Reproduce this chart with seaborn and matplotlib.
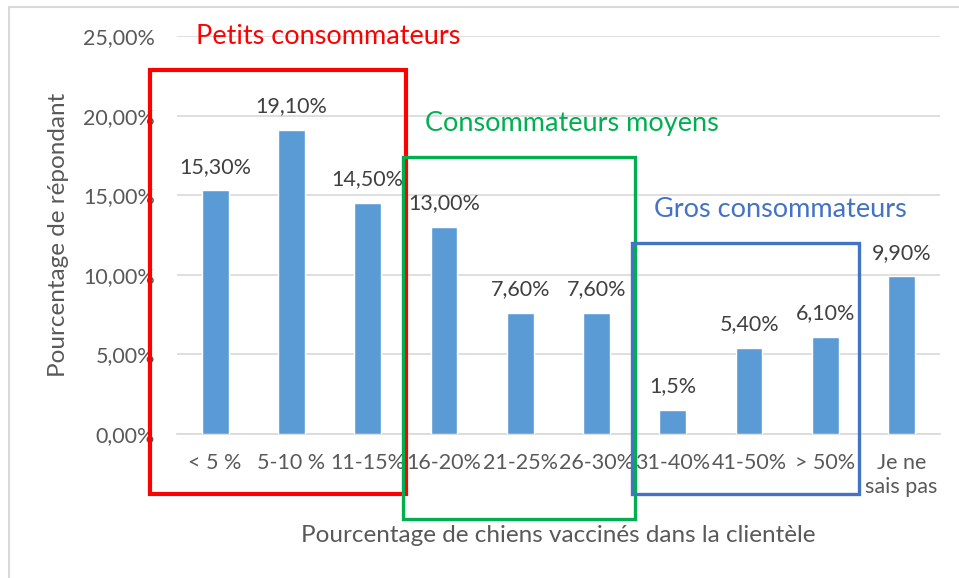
import matplotlib
matplotlib.use("Agg")
import matplotlib.pyplot as plt
import matplotlib.patches as mpatches
import seaborn as sns
import pandas as pd

# data
categories = ["< 5 %", "5-10 %", "11-15%", "16-20%", "21-25%", "26-30%",
              "31-40%", "41-50%", "> 50%", "Je ne\nsais pas"]
values = [15.3, 19.1, 14.5, 13.0, 7.6, 7.6, 1.5, 5.4, 6.1, 9.9]
value_labels = ["15,30%", "19,10%", "14,50%", "13,00%", "7,60%", "7,60%",
                "1,5%", "5,40%", "6,10%", "9,90%"]
y_ticks = [0, 5, 10, 15, 20, 25]
y_ticklabels = ["0,00%", "5,00%", "10,00%", "15,00%", "20,00%", "25,00%"]

group_names = ["Petits consommateurs", "Consommateurs moyens", "Gros consommateurs"]
group_first = [0, 3, 6]
group_last = [2, 5, 8]
group_colors = ["#FF0000", "#00B050", "#4472C4"]

BAR = "#5B9BD5"
GRID = "#D9D9D9"
TXT = "#595959"
LBL = "#404040"

sns.set_theme(style="white")
plt.rcParams["font.family"] = ["Lato", "DejaVu Sans"]

df = pd.DataFrame({"cat": categories, "val": values})

fig = plt.figure(figsize=(9.59, 5.78), dpi=100)
ax = fig.add_axes([0.1846, 0.2491, 0.7954, 0.6886])

sns.barplot(data=df, x="cat", y="val", color=BAR, width=0.35,
            saturation=1, ax=ax, zorder=3)

ax.set_ylim(0, 25)
ax.set_xlim(-0.5, len(categories) - 0.5)
ax.set_yticks(y_ticks)
ax.set_yticklabels(y_ticklabels)
ax.yaxis.grid(True, color=GRID, lw=1.2, zorder=0)
ax.tick_params(axis="y", length=0, pad=16, labelsize=15.5, labelcolor=TXT)
ax.tick_params(axis="x", length=0, pad=14, labelsize=15.5, labelcolor=TXT)
for s in ["left", "right", "top"]:
    ax.spines[s].set_visible(False)
ax.spines["bottom"].set_color(GRID)
ax.spines["bottom"].set_linewidth(1.2)

ax.set_xlabel("Pourcentage de chiens vaccinés dans la clientèle",
              fontsize=17.5, color=TXT)
ax.set_ylabel("Pourcentage de répondant", fontsize=17.5, color=TXT)
ax.xaxis.set_label_coords(0.5, -0.254)
ax.yaxis.set_label_coords(-0.155, 0.5)
ax.xaxis.label.set_va("center")
ax.yaxis.label.set_va("center")

# value labels on top of bars
for i, (v, lab) in enumerate(zip(values, value_labels)):
    ax.annotate(lab, (i, v), xytext=(0, 17), textcoords="offset points",
                ha="center", va="center", fontsize=15.5, color=LBL)

# group boxes around the categories
box_top = [22.86, 17.4, 12.0]
box_bottom = [-3.77, -5.34, -3.77]
box_lw = [3.0, 2.4, 2.4]
title_dx = [33, 16, 16]
for k, name in enumerate(group_names):
    left = group_first[k] - 0.5 - (0.35 if k == 0 else 0.04)
    right = group_last[k] + 0.5 - (0.06 if k == 2 else 0)
    rect = mpatches.Rectangle((left, box_bottom[k]), right - left,
                              box_top[k] - box_bottom[k], fill=False,
                              edgecolor=group_colors[k], lw=box_lw[k],
                              clip_on=False, zorder=5)
    ax.add_patch(rect)
    ax.annotate(name, (left, box_top[k]), xytext=(title_dx[k], 24),
                textcoords="offset points", ha="left", va="center",
                fontsize=19.5, color=group_colors[k], annotation_clip=False)

# light frame around the chart area
frame = mpatches.Rectangle((9 / 959, -0.1), 1.2, 1.1 - 7 / 578, fill=False,
                           edgecolor=GRID, lw=1.5, transform=fig.transFigure)
fig.patches.append(frame)

fig.savefig("out.png", dpi=100)
